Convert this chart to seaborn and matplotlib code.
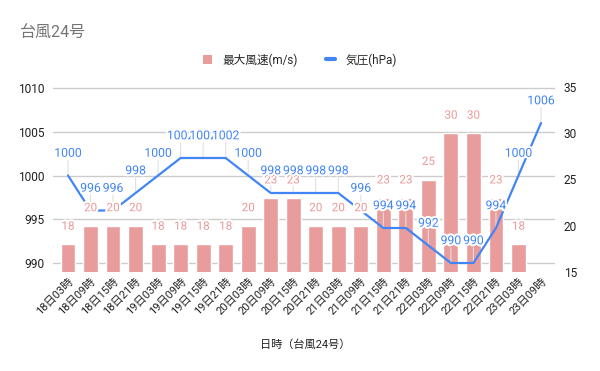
import numpy as np
import pandas as pd
import matplotlib
matplotlib.use("Agg")
import matplotlib.pyplot as plt
import matplotlib.patheffects as pe
from matplotlib.patches import Patch
from matplotlib.lines import Line2D
import seaborn as sns

# data
dates = ["18日03時", "18日09時", "18日15時", "18日21時",
         "19日03時", "19日09時", "19日15時", "19日21時",
         "20日03時", "20日09時", "20日15時", "20日21時",
         "21日03時", "21日09時", "21日15時", "21日21時",
         "22日03時", "22日09時", "22日15時", "22日21時",
         "23日03時", "23日09時"]
wind = [18, 20, 20, 20, 18, 18, 18, 18, 20, 23, 23, 20,
        20, 20, 23, 23, 25, 30, 30, 23, 18, np.nan]
pressure = [1000, 996, 996, 998, 1000, 1002, 1002, 1002, 1000, 998, 998, 998,
            998, 996, 994, 994, 992, 990, 990, 994, 1000, 1006]
p_ticks = [990, 995, 1000, 1005, 1010]
w_ticks = [15, 20, 25, 30, 35]

df = pd.DataFrame({"date": dates, "wind": wind, "pressure": pressure})

sns.set_style("white")
plt.rcParams['font.family'] = ['Roboto', 'Noto Sans CJK JP', 'DejaVu Sans']

BAR = "#e99c9c"
BLUE = "#4285f4"
halo = [pe.withStroke(linewidth=3, foreground="white")]

fig = plt.figure(figsize=(6, 3.71), dpi=100)
ax = fig.add_axes([53/600, 99/371, 501/600, 185/371])

# bars (wind) on the base axes
sns.barplot(data=df.dropna(), x="date", y="wind", order=dates, color=BAR,
            saturation=1, width=0.66, ax=ax, zorder=2)
ax.set_ylim(15, 35)
ax.set_xlim(-0.666, 21.577)
ax.set_yticks(w_ticks)
ax.set_ylabel("")
ax.set_xlabel("")

# pressure line on the twin axes
ax2 = ax.twinx()
sns.lineplot(data=df, x="date", y="pressure", color=BLUE, lw=1.6, ax=ax2,
             sort=False, zorder=3)
ax2.set_ylim(990 - 9/8.75, 1010 + 1/8.75)
ax2.set_yticks(p_ticks)
ax2.set_ylabel("")
ax2.set_xlabel("")

# swap sides: pressure left, wind right
ax.yaxis.tick_right()
ax2.yaxis.tick_left()

# gridlines from pressure scale, drawn behind the bars
grid_tr = matplotlib.transforms.blended_transform_factory(ax.transAxes, ax2.transData)
for p in p_ticks:
    ax.plot([0, 1], [p, p], color="#cccccc", lw=1, zorder=0,
            transform=grid_tr, clip_on=False)

for a in (ax, ax2):
    for s in a.spines.values():
        s.set_visible(False)
    a.tick_params(axis="y", length=0, labelsize=8.6, colors="#222222")
ax.tick_params(axis="y", pad=7)
ax2.tick_params(axis="y", pad=6)
ax.tick_params(axis="x", length=0, pad=3, labelsize=8, colors="#222222")
ax2.tick_params(axis="x", length=0)
for lbl in ax.get_xticklabels():
    lbl.set_rotation(45)
    lbl.set_ha("right")
    lbl.set_rotation_mode("anchor")

# bar labels (drawn on top axes so they cover the line)
for i, w in enumerate(wind):
    if np.isnan(w):
        continue
    ax2.annotate(str(int(w)), xy=(i, w), xycoords=ax.transData,
                 xytext=(0, 13), textcoords="offset points",
                 ha="center", va="center", fontsize=8.4, color="#ea9999",
                 path_effects=halo, zorder=4)

# pressure labels with stems
for i, p in enumerate(pressure):
    ax2.annotate("", xy=(i, p), xytext=(0, 11), textcoords="offset points",
                 arrowprops=dict(arrowstyle="-", color="#e0e0e0", lw=0.8,
                                 shrinkA=0, shrinkB=0), zorder=1)
    ax2.annotate(str(p), xy=(i, p), xytext=(0, 16), textcoords="offset points",
                 ha="center", va="center", fontsize=8.8, color=BLUE,
                 path_effects=halo, zorder=5)

fig.text(20/600, 1 - 32/371, "台風24号", fontsize=11.5, color="#757575",
         va="center", ha="left")
fig.text(305/600, 1 - 345/371, "日時（台風24号）", fontsize=8, color="#222222",
         va="center", ha="center")

handles = [Patch(facecolor=BAR, edgecolor="none"),
           Line2D([0], [0], color=BLUE, lw=3)]
fig.legend(handles, ["最大風速(m/s)", "気圧(hPa)"], loc="center",
           bbox_to_anchor=(300/600, 1 - 60/371), ncol=2, frameon=False,
           fontsize=8.4, handlelength=0.8, handleheight=0.8,
           handletextpad=0.9, columnspacing=2.4)

fig.savefig("out.png", dpi=100)
